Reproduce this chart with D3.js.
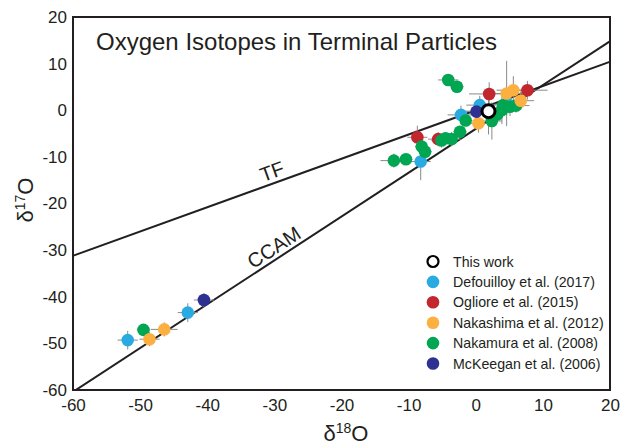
<!DOCTYPE html>
<html>
<head>
<meta charset="utf-8">
<script src="https://cdn.jsdelivr.net/npm/d3@7"></script>
<style>
body { margin: 0; background: #fff; }
svg text { font-family: "Liberation Sans", Arial, sans-serif; fill: #231f20; }
</style>
</head>
<body>
<svg width="622" height="445"></svg>
<script>
const svg = d3.select("svg");

// tick labels
var xTicks = [-60, -50, -40, -30, -20, -10, 0, 10, 20];
var yTicks = [-60, -50, -40, -30, -20, -10, 0, 10, 20];

// reference lines: d17O = slope * d18O + intercept
var lineNames = ["TF", "CCAM"];
var lineSlopes = [0.52, 0.94];
var lineIntercepts = [0, -4];

// series: [d18O, d17O, xerr, yerr]
var seriesNames = ["This work", "Defouilloy et al. (2017)", "Ogliore et al. (2015)",
  "Nakashima et al. (2012)", "Nakamura et al. (2008)", "McKeegan et al. (2006)"];
var seriesColors = ["#ffffff", "#29abe2", "#c1272d", "#fbb040", "#00a651", "#2e3192"];

var thisWork = [[1.9, -0.2, 3.5, 5]];
var defouilloy = [[-51.85, -49.3, 1.5, 2], [-42.9, -43.4, 1.5, 2], [-8.2, -11.0, 1.5, 4],
  [-2.2, -1.0, 2, 2], [0.6, 1.1, 2, 2], [4.8, 1.3, 2, 2]];
var ogliore = [[2.0, 3.5, 3, 2.5], [7.7, 4.3, 3, 2], [-5.6, -6.2, 1.5, 1.5], [-8.7, -5.8, 1.5, 2.5]];
var nakashima = [[-48.6, -49.1, 1.5, 1.5], [-46.4, -47.0, 2, 1.5], [0.4, -2.8, 2, 2],
  [4.6, 3.6, 2.5, 7], [5.6, 4.3, 2.5, 3], [6.7, 2.05, 2, 2]];
var nakamura = [[-49.5, -47.1, 1, 1], [-4.1, 6.5, 1.5, 1], [-2.8, 5.05, 1, 1],
  [-12.2, -10.8, 2, 1.5], [-10.4, -10.5, 1, 1], [-8.05, -7.8, 1, 1], [-7.55, -8.9, 1, 1],
  [-5.1, -6.5, 1.5, 1.5], [-4.5, -6.0, 1, 1], [-3.6, -6.2, 1.5, 1.5], [-2.35, -4.6, 1, 1],
  [-1.5, -2.2, 1, 1], [2.4, -2.3, 1.5, 4], [3.9, 0.05, 2, 3], [4.1, 1.1, 2, 1.5],
  [5.1, 0.75, 2, 2], [3.2, -0.9, 1.5, 1.5], [6.0, 1.0, 2, 1.5]];
var mckeegan = [[-40.5, -40.7, 1.5, 1.5], [0.1, -0.3, 1.5, 1.5]];

var allSeries = [thisWork, defouilloy, ogliore, nakashima, nakamura, mckeegan];
var drawOrder = [1, 2, 4, 3, 5, 0];

var x = d3.scaleLinear().domain([-60, 20]).range([73, 610]);
var y = d3.scaleLinear().domain([-60, 20]).range([390, 17]);

svg.append("clipPath").attr("id", "plot")
  .append("rect")
  .attr("x", x(-60)).attr("y", y(20))
  .attr("width", x(20) - x(-60)).attr("height", y(-60) - y(20));

// reference lines
const lines = svg.append("g").attr("clip-path", "url(#plot)");
lineNames.forEach(function(n, i) {
  lines.append("line")
    .attr("x1", x(-62)).attr("y1", y(lineSlopes[i] * -62 + lineIntercepts[i]))
    .attr("x2", x(22)).attr("y2", y(lineSlopes[i] * 22 + lineIntercepts[i]))
    .attr("stroke", "#231f20")
    .attr("stroke-width", 2);
});

// line labels
function lineLabel(i, xv, off) {
  var ang = Math.atan2(y(lineSlopes[i] * (xv + 1) + lineIntercepts[i]) - y(lineSlopes[i] * xv + lineIntercepts[i]),
    x(xv + 1) - x(xv)) * 180 / Math.PI;
  svg.append("text")
    .attr("transform", "translate(" + x(xv) + "," + (y(lineSlopes[i] * xv + lineIntercepts[i]) - off) + ") rotate(" + ang + ")")
    .attr("text-anchor", "middle")
    .style("font-size", "20px")
    .text(lineNames[i]);
}
lineLabel(0, -30, 5);
lineLabel(1, -29.5, 5);

// error bars
const errs = svg.append("g").attr("stroke", "#8a8a8a").attr("stroke-width", 1);
drawOrder.forEach(function(s) {
  allSeries[s].forEach(function(d) {
    errs.append("line")
      .attr("x1", x(d[0] - d[2])).attr("x2", x(d[0] + d[2]))
      .attr("y1", y(d[1])).attr("y2", y(d[1]));
    errs.append("line")
      .attr("x1", x(d[0])).attr("x2", x(d[0]))
      .attr("y1", y(d[1] - d[3])).attr("y2", y(d[1] + d[3]));
  });
});

// points
drawOrder.forEach(function(s) {
  svg.append("g").selectAll("circle")
    .data(allSeries[s])
    .join("circle")
    .attr("cx", d => x(d[0]))
    .attr("cy", d => y(d[1]))
    .attr("r", s == 0 ? 6.5 : 6.3)
    .attr("fill", seriesColors[s])
    .attr("stroke", s == 0 ? "#000" : "none")
    .attr("stroke-width", 3);
});

// frame
svg.append("rect")
  .attr("x", x(-60)).attr("y", y(20))
  .attr("width", x(20) - x(-60)).attr("height", y(-60) - y(20))
  .attr("fill", "none")
  .attr("stroke", "#231f20")
  .attr("stroke-width", 2);

// axes
const xAxis = svg.append("g")
  .attr("transform", "translate(0," + y(-60) + ")")
  .call(d3.axisBottom(x).tickValues(xTicks).tickFormat(d => String(d)).tickSize(0).tickPadding(9));
const yAxis = svg.append("g")
  .attr("transform", "translate(" + x(-60) + ",0)")
  .call(d3.axisLeft(y).tickValues(yTicks).tickFormat(d => String(d)).tickSize(0).tickPadding(6));
[xAxis, yAxis].forEach(function(a) {
  a.select(".domain").remove();
  a.selectAll("text")
    .style("font-family", "Liberation Sans, Arial, sans-serif")
    .style("font-size", "17px")
    .attr("fill", "#231f20");
});

// axis titles
var xt = svg.append("text")
  .attr("x", 346).attr("y", 441)
  .attr("text-anchor", "middle")
  .style("font-size", "22px");
xt.append("tspan").text("δ");
xt.append("tspan").attr("dy", "-8").style("font-size", "14px").text("18");
xt.append("tspan").attr("dy", "8").text("O");

var yt = svg.append("text")
  .attr("transform", "translate(33,200) rotate(-90)")
  .attr("text-anchor", "middle")
  .style("font-size", "22px");
yt.append("tspan").text("δ");
yt.append("tspan").attr("dy", "-8").style("font-size", "14px").text("17");
yt.append("tspan").attr("dy", "8").text("O");

// title
svg.append("text")
  .attr("x", 96).attr("y", 50)
  .style("font-size", "24px")
  .text("Oxygen Isotopes in Terminal Particles");

// legend
const legend = svg.append("g");
seriesNames.forEach(function(n, i) {
  var ly = 261.5 + i * 20.4;
  legend.append("circle")
    .attr("cx", 433).attr("cy", ly)
    .attr("r", i == 0 ? 5.5 : 6.3)
    .attr("fill", seriesColors[i])
    .attr("stroke", i == 0 ? "#000" : "none")
    .attr("stroke-width", 2.2);
  legend.append("text")
    .attr("x", 453).attr("y", ly + 5)
    .style("font-size", "14.2px")
    .text(n);
});
</script>
</body>
</html>
